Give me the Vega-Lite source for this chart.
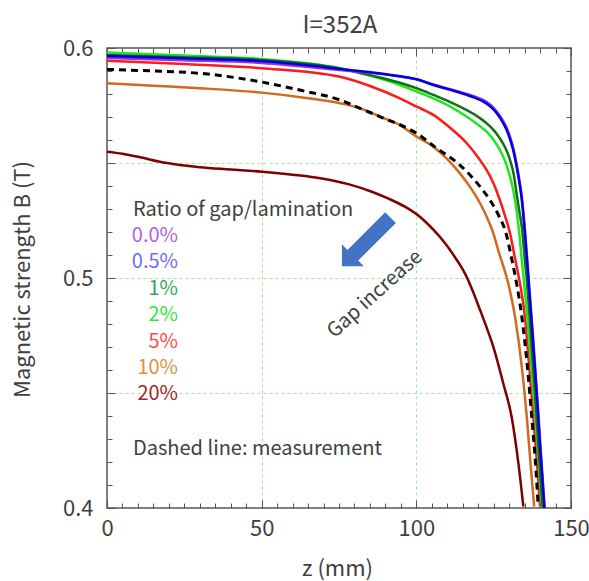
{
  "$schema": "https://vega.github.io/schema/vega-lite/v6.json",
  "width": 464,
  "height": 460,
  "autosize": "none",
  "padding": {"left": 107, "top": 48, "right": 18, "bottom": 73},
  "background": "white",
  "config": {
    "font": "Noto Sans CJK JP",
    "view": {"stroke": "#555555", "strokeWidth": 1.5},
    "axis": {"domain": false, "grid": false, "tickColor": "#555555", "tickWidth": 1, "labelFont": "Noto Sans CJK JP", "titleFont": "Noto Sans CJK JP"},
    "legend": {"labelFont": "Noto Sans CJK JP", "titleFont": "Noto Sans CJK JP"}
  },
  "datasets": {
    "sim": [
      {"s": "20%", "z": 0, "B": 0.5549}, {"s": "20%", "z": 5, "B": 0.554}, {"s": "20%", "z": 10, "B": 0.5527}, {"s": "20%", "z": 18.8, "B": 0.5501}, {"s": "20%", "z": 30, "B": 0.5482}, {"s": "20%", "z": 40, "B": 0.5472}, {"s": "20%", "z": 50, "B": 0.5462}, {"s": "20%", "z": 60, "B": 0.5449}, {"s": "20%", "z": 69.4, "B": 0.5433}, {"s": "20%", "z": 78, "B": 0.5408}, {"s": "20%", "z": 85.6, "B": 0.5375}, {"s": "20%", "z": 91, "B": 0.5345}, {"s": "20%", "z": 96.3, "B": 0.531}, {"s": "20%", "z": 101.7, "B": 0.526}, {"s": "20%", "z": 105.5, "B": 0.521}, {"s": "20%", "z": 109.3, "B": 0.5151}, {"s": "20%", "z": 112.5, "B": 0.509}, {"s": "20%", "z": 115.7, "B": 0.502}, {"s": "20%", "z": 118.2, "B": 0.4945}, {"s": "20%", "z": 120.6, "B": 0.4861}, {"s": "20%", "z": 122.8, "B": 0.4782}, {"s": "20%", "z": 124.9, "B": 0.4701}, {"s": "20%", "z": 128.1, "B": 0.4542}, {"s": "20%", "z": 130.8, "B": 0.4397}, {"s": "20%", "z": 133.0, "B": 0.4194}, {"s": "20%", "z": 134.6, "B": 0.4006},
      {"s": "10%", "z": 0, "B": 0.5847}, {"s": "10%", "z": 15, "B": 0.5836}, {"s": "10%", "z": 30, "B": 0.5825}, {"s": "10%", "z": 50, "B": 0.5806}, {"s": "10%", "z": 65, "B": 0.5782}, {"s": "10%", "z": 75.3, "B": 0.576}, {"s": "10%", "z": 81.8, "B": 0.5738}, {"s": "10%", "z": 88.3, "B": 0.5701}, {"s": "10%", "z": 94.7, "B": 0.5665}, {"s": "10%", "z": 100.1, "B": 0.5614}, {"s": "10%", "z": 105.5, "B": 0.5571}, {"s": "10%", "z": 110, "B": 0.5517}, {"s": "10%", "z": 114.1, "B": 0.5455}, {"s": "10%", "z": 117.5, "B": 0.5393}, {"s": "10%", "z": 120.6, "B": 0.5325}, {"s": "10%", "z": 122.9, "B": 0.5262}, {"s": "10%", "z": 124.9, "B": 0.5194}, {"s": "10%", "z": 126.6, "B": 0.5115}, {"s": "10%", "z": 129.7, "B": 0.4977}, {"s": "10%", "z": 131.9, "B": 0.4832}, {"s": "10%", "z": 134.1, "B": 0.4614}, {"s": "10%", "z": 135.7, "B": 0.4397}, {"s": "10%", "z": 137.0, "B": 0.418}, {"s": "10%", "z": 138.1, "B": 0.4006},
      {"s": "5%", "z": 0, "B": 0.5945}, {"s": "5%", "z": 25, "B": 0.593}, {"s": "5%", "z": 50, "B": 0.5912}, {"s": "5%", "z": 75.3, "B": 0.5875}, {"s": "5%", "z": 85, "B": 0.5835}, {"s": "5%", "z": 94.7, "B": 0.5781}, {"s": "5%", "z": 100.1, "B": 0.5745}, {"s": "5%", "z": 105.5, "B": 0.5709}, {"s": "5%", "z": 111, "B": 0.5652}, {"s": "5%", "z": 116.3, "B": 0.5586}, {"s": "5%", "z": 119.5, "B": 0.5533}, {"s": "5%", "z": 122.7, "B": 0.547}, {"s": "5%", "z": 125, "B": 0.541}, {"s": "5%", "z": 127.0, "B": 0.5339}, {"s": "5%", "z": 128.8, "B": 0.5265}, {"s": "5%", "z": 130.3, "B": 0.5194}, {"s": "5%", "z": 131.9, "B": 0.5085}, {"s": "5%", "z": 133.5, "B": 0.4977}, {"s": "5%", "z": 135.1, "B": 0.4832}, {"s": "5%", "z": 136.5, "B": 0.4614}, {"s": "5%", "z": 137.8, "B": 0.4397}, {"s": "5%", "z": 139.1, "B": 0.418}, {"s": "5%", "z": 140.0, "B": 0.4006},
      {"s": "2%", "z": 0, "B": 0.598}, {"s": "2%", "z": 25, "B": 0.5967}, {"s": "2%", "z": 50, "B": 0.5952}, {"s": "2%", "z": 75.3, "B": 0.5912}, {"s": "2%", "z": 85, "B": 0.588}, {"s": "2%", "z": 94.7, "B": 0.5839}, {"s": "2%", "z": 100.1, "B": 0.581}, {"s": "2%", "z": 105.5, "B": 0.5781}, {"s": "2%", "z": 111, "B": 0.5745}, {"s": "2%", "z": 116.3, "B": 0.5701}, {"s": "2%", "z": 119.5, "B": 0.5671}, {"s": "2%", "z": 122.7, "B": 0.5636}, {"s": "2%", "z": 125, "B": 0.56}, {"s": "2%", "z": 127.0, "B": 0.5557}, {"s": "2%", "z": 128.8, "B": 0.5505}, {"s": "2%", "z": 130.3, "B": 0.544}, {"s": "2%", "z": 131.5, "B": 0.537}, {"s": "2%", "z": 132.4, "B": 0.5296}, {"s": "2%", "z": 133.3, "B": 0.519}, {"s": "2%", "z": 134.1, "B": 0.5078}, {"s": "2%", "z": 134.7, "B": 0.5}, {"s": "2%", "z": 136.4, "B": 0.4748}, {"s": "2%", "z": 137.9, "B": 0.45}, {"s": "2%", "z": 139.3, "B": 0.4252}, {"s": "2%", "z": 140.6, "B": 0.4},
      {"s": "1%", "z": 0, "B": 0.597}, {"s": "1%", "z": 25, "B": 0.596}, {"s": "1%", "z": 50, "B": 0.5948}, {"s": "1%", "z": 75.3, "B": 0.5911}, {"s": "1%", "z": 85, "B": 0.5882}, {"s": "1%", "z": 94.7, "B": 0.5849}, {"s": "1%", "z": 100.1, "B": 0.5825}, {"s": "1%", "z": 105.5, "B": 0.5796}, {"s": "1%", "z": 111, "B": 0.5765}, {"s": "1%", "z": 116.3, "B": 0.573}, {"s": "1%", "z": 119.5, "B": 0.5705}, {"s": "1%", "z": 122.7, "B": 0.5673}, {"s": "1%", "z": 125, "B": 0.5643}, {"s": "1%", "z": 127.0, "B": 0.5607}, {"s": "1%", "z": 128.8, "B": 0.5565}, {"s": "1%", "z": 130.3, "B": 0.5513}, {"s": "1%", "z": 131.5, "B": 0.545}, {"s": "1%", "z": 132.4, "B": 0.5368}, {"s": "1%", "z": 133.3, "B": 0.529}, {"s": "1%", "z": 134.1, "B": 0.5223}, {"s": "1%", "z": 135.1, "B": 0.5078}, {"s": "1%", "z": 135.65, "B": 0.5}, {"s": "1%", "z": 137.05, "B": 0.4748}, {"s": "1%", "z": 138.35, "B": 0.45}, {"s": "1%", "z": 139.55, "B": 0.4252}, {"s": "1%", "z": 140.85, "B": 0.4},
      {"s": "0.0%", "z": 0, "B": 0.5957}, {"s": "0.0%", "z": 25, "B": 0.5947}, {"s": "0.0%", "z": 50, "B": 0.5935}, {"s": "0.0%", "z": 75.3, "B": 0.5904}, {"s": "0.0%", "z": 94.7, "B": 0.5876}, {"s": "0.0%", "z": 100.1, "B": 0.5864}, {"s": "0.0%", "z": 105.5, "B": 0.5841}, {"s": "0.0%", "z": 111, "B": 0.5821}, {"s": "0.0%", "z": 116.3, "B": 0.58}, {"s": "0.0%", "z": 119, "B": 0.5788}, {"s": "0.0%", "z": 121.7, "B": 0.5773}, {"s": "0.0%", "z": 124, "B": 0.5752}, {"s": "0.0%", "z": 126, "B": 0.5724}, {"s": "0.0%", "z": 128, "B": 0.5684}, {"s": "0.0%", "z": 129.2, "B": 0.5653}, {"s": "0.0%", "z": 130.3, "B": 0.5613}, {"s": "0.0%", "z": 131.3, "B": 0.5567}, {"s": "0.0%", "z": 132.2, "B": 0.5511}, {"s": "0.0%", "z": 133, "B": 0.5452}, {"s": "0.0%", "z": 134.2, "B": 0.5343}, {"s": "0.0%", "z": 135.1, "B": 0.5212}, {"s": "0.0%", "z": 136.3, "B": 0.5}, {"s": "0.0%", "z": 137.7, "B": 0.4748}, {"s": "0.0%", "z": 139.0, "B": 0.45}, {"s": "0.0%", "z": 140.2, "B": 0.4252}, {"s": "0.0%", "z": 141.5, "B": 0.4},
      {"s": "0.5%", "z": 0, "B": 0.5965}, {"s": "0.5%", "z": 25, "B": 0.5955}, {"s": "0.5%", "z": 50, "B": 0.5943}, {"s": "0.5%", "z": 75.3, "B": 0.5909}, {"s": "0.5%", "z": 94.7, "B": 0.5877}, {"s": "0.5%", "z": 100.1, "B": 0.5864}, {"s": "0.5%", "z": 105.5, "B": 0.5839}, {"s": "0.5%", "z": 111, "B": 0.5818}, {"s": "0.5%", "z": 116.3, "B": 0.5796}, {"s": "0.5%", "z": 119, "B": 0.5783}, {"s": "0.5%", "z": 121.7, "B": 0.5767}, {"s": "0.5%", "z": 124, "B": 0.5745}, {"s": "0.5%", "z": 126, "B": 0.5716}, {"s": "0.5%", "z": 128, "B": 0.5675}, {"s": "0.5%", "z": 129.2, "B": 0.5643}, {"s": "0.5%", "z": 130.3, "B": 0.5603}, {"s": "0.5%", "z": 131.3, "B": 0.5557}, {"s": "0.5%", "z": 132.2, "B": 0.55}, {"s": "0.5%", "z": 133, "B": 0.544}, {"s": "0.5%", "z": 134.1, "B": 0.5339}, {"s": "0.5%", "z": 135.0, "B": 0.5209}, {"s": "0.5%", "z": 136.2, "B": 0.5}, {"s": "0.5%", "z": 137.6, "B": 0.4748}, {"s": "0.5%", "z": 138.9, "B": 0.45}, {"s": "0.5%", "z": 140.1, "B": 0.4252}, {"s": "0.5%", "z": 141.4, "B": 0.4}
    ],
    "meas": [
      {"z": 0, "B": 0.5907}, {"z": 15, "B": 0.59}, {"z": 30, "B": 0.589}, {"z": 50, "B": 0.5852}, {"z": 63, "B": 0.5815}, {"z": 75.3, "B": 0.5774}, {"z": 81.8, "B": 0.5738}, {"z": 88.3, "B": 0.5701}, {"z": 100.1, "B": 0.5629}, {"z": 106.6, "B": 0.5564}, {"z": 114.1, "B": 0.5491}, {"z": 120.6, "B": 0.5397}, {"z": 124, "B": 0.5335}, {"z": 126.5, "B": 0.5275}, {"z": 129.0, "B": 0.5194}, {"z": 130.8, "B": 0.5085}, {"z": 132.4, "B": 0.4977}, {"z": 134.1, "B": 0.4832}, {"z": 135.9, "B": 0.4614}, {"z": 137.3, "B": 0.4397}, {"z": 138.6, "B": 0.418}, {"z": 139.4, "B": 0.4006}
    ],
    "one": [{}]
  },
  "data": {"name": "sim"},
  "resolve": {"axis": {"x": "independent", "y": "independent"}},
  "layer": [
    {
      "mark": {"type": "point", "opacity": 0},
      "encoding": {
        "x": {"field": "z", "type": "quantitative", "scale": {"domain": [0, 150], "nice": false, "zero": false},
          "axis": {"orient": "bottom", "values": [50, 100], "grid": true, "gridColor": "#9ee89e", "gridDash": [3, 3], "gridWidth": 1, "ticks": false, "labels": false, "domain": false, "title": null}},
        "y": {"field": "B", "type": "quantitative", "scale": {"domain": [0.4, 0.6], "nice": false, "zero": false},
          "axis": {"orient": "left", "values": [0.45, 0.5, 0.55], "grid": true, "gridColor": "#9ee89e", "gridDash": [3, 3], "gridWidth": 1, "ticks": false, "labels": false, "domain": false, "title": null}}
      }
    },
    {
      "mark": {"type": "line", "strokeWidth": 2.5, "clip": true, "interpolate": "monotone"},
      "encoding": {
        "x": {"field": "z", "type": "quantitative",
          "axis": {"orient": "bottom", "values": [0, 50, 100, 150], "ticks": false, "tickSize": 0, "domain": false, "grid": false, "labelFontSize": 22, "labelColor": "#404040", "labelPadding": 10, "labelFlush": false,
            "title": "z (mm)", "titleFontSize": 22, "titleFontWeight": "normal", "titleColor": "#404040", "titleX": 230, "titleY": 60, "titleBaseline": "middle"}},
        "y": {"field": "B", "type": "quantitative",
          "axis": {"orient": "left", "values": [0.4, 0.5, 0.6], "format": ".1f", "ticks": false, "tickSize": 0, "domain": false, "grid": false, "labelFontSize": 22, "labelColor": "#404040", "labelPadding": 14, "labelFlush": false,
            "title": "Magnetic strength B (T)", "titleFontSize": 22, "titleFontWeight": "normal", "titleColor": "#404040", "titleX": -85, "titleY": 231, "titleBaseline": "middle", "titleAngle": -90}},
        "color": {"field": "s", "type": "nominal",
          "scale": {"domain": ["0.0%", "0.5%", "1%", "2%", "5%", "10%", "20%"], "range": ["#9b30d9", "#0000e6", "#137013", "#22e622", "#ff1a1a", "#d2691e", "#7f0000"]},
          "legend": {"orient": "none", "legendX": 26, "legendY": 152, "padding": 0, "title": "Ratio of gap/lamination", "titleFontSize": 20, "titleFontWeight": "normal", "titleColor": "#404040", "titlePadding": 6, "titleLimit": 0,
            "labelFontSize": 20, "labelAlign": "right", "labelOffset": 25, "labelLimit": 0, "symbolOpacity": 0, "symbolSize": 0, "symbolStrokeWidth": 0, "rowPadding": 6.4,
            "encode": {"labels": {"update": {"fill": {"signal": "datum.value === '0.0%' ? '#b060e0' : datum.value === '0.5%' ? '#6a6aff' : datum.value === '1%' ? '#2aaa5a' : datum.value === '2%' ? '#33e633' : datum.value === '5%' ? '#ff4a4a' : datum.value === '10%' ? '#e0903c' : '#a02828'"}}}}}}
      }
    },
    {
      "data": {"name": "meas"},
      "mark": {"type": "line", "color": "black", "strokeWidth": 3, "strokeDash": [7, 5], "clip": true, "interpolate": "monotone"},
      "encoding": {
        "x": {"field": "z", "type": "quantitative", "axis": null},
        "y": {"field": "B", "type": "quantitative", "axis": null}
      }
    },
    {
      "mark": {"type": "point", "opacity": 0},
      "encoding": {
        "x": {"field": "z", "type": "quantitative", "axis": {"orient": "bottom", "values": [0,5,10,15,20,25,30,35,40,45,50,55,60,65,70,75,80,85,90,95,100,105,110,115,120,125,130,135,140,145,150], "tickSize": -5, "labels": false, "domain": false, "grid": false, "title": null}},
        "y": {"field": "B", "type": "quantitative", "axis": {"orient": "left", "values": [0.4,0.41,0.42,0.43,0.44,0.45,0.46,0.47,0.48,0.49,0.5,0.51,0.52,0.53,0.54,0.55,0.56,0.57,0.58,0.59,0.6], "tickSize": -5, "labels": false, "domain": false, "grid": false, "title": null}}
      }
    },
    {
      "mark": {"type": "point", "opacity": 0},
      "encoding": {
        "x": {"field": "z", "type": "quantitative", "axis": {"orient": "top", "values": [0,5,10,15,20,25,30,35,40,45,50,55,60,65,70,75,80,85,90,95,100,105,110,115,120,125,130,135,140,145,150], "tickSize": -5, "labels": false, "domain": false, "grid": false, "title": null}},
        "y": {"field": "B", "type": "quantitative", "axis": {"orient": "right", "values": [0.4,0.41,0.42,0.43,0.44,0.45,0.46,0.47,0.48,0.49,0.5,0.51,0.52,0.53,0.54,0.55,0.56,0.57,0.58,0.59,0.6], "tickSize": -5, "labels": false, "domain": false, "grid": false, "title": null}}
      }
    },
    {
      "mark": {"type": "point", "opacity": 0},
      "encoding": {
        "x": {"field": "z", "type": "quantitative", "axis": {"orient": "bottom", "values": [0, 50, 100, 150], "tickSize": -8, "labels": false, "domain": false, "grid": false, "title": null}},
        "y": {"field": "B", "type": "quantitative", "axis": {"orient": "left", "values": [0.4, 0.45, 0.5, 0.55, 0.6], "tickSize": -8, "labels": false, "domain": false, "grid": false, "title": null}}
      }
    },
    {
      "mark": {"type": "point", "opacity": 0},
      "encoding": {
        "x": {"field": "z", "type": "quantitative", "axis": {"orient": "top", "values": [0, 50, 100, 150], "tickSize": -8, "labels": false, "domain": false, "grid": false, "title": null}},
        "y": {"field": "B", "type": "quantitative", "axis": {"orient": "right", "values": [0.4, 0.45, 0.5, 0.55, 0.6], "tickSize": -8, "labels": false, "domain": false, "grid": false, "title": null}}
      }
    },
    {
      "data": {"name": "one"},
      "mark": {"type": "text", "text": "I=352A", "align": "center", "baseline": "alphabetic", "dy": -15, "fontSize": 24, "color": "#404040"},
      "encoding": {
        "x": {"datum": 75.3, "type": "quantitative", "axis": null},
        "y": {"datum": 0.6, "type": "quantitative", "axis": null}
      }
    },
    {
      "data": {"name": "one"},
      "mark": {"type": "text", "text": "Dashed line: measurement", "align": "left", "baseline": "alphabetic", "fontSize": 20, "color": "#404040"},
      "encoding": {
        "x": {"datum": 8.4, "type": "quantitative", "axis": null},
        "y": {"datum": 0.423, "type": "quantitative", "axis": null}
      }
    },
    {
      "data": {"name": "one"},
      "mark": {"type": "text", "text": "Gap increase", "align": "center", "baseline": "middle", "fontSize": 20, "color": "#404040", "angle": -42},
      "encoding": {
        "x": {"datum": 86.6, "type": "quantitative", "axis": null},
        "y": {"datum": 0.493, "type": "quantitative", "axis": null}
      }
    },
    {
      "data": {"name": "one"},
      "mark": {"type": "point", "shape": "M-1,-0.22L0.55,-0.22L0.55,-0.45L1,0L0.55,0.45L0.55,0.22L-1,0.22Z", "size": 4733, "angle": 135, "filled": true, "fill": "#4472c4", "opacity": 1, "strokeWidth": 0},
      "encoding": {
        "x": {"datum": 83.8, "type": "quantitative", "axis": null},
        "y": {"datum": 0.5157, "type": "quantitative", "axis": null}
      }
    }
  ]
}
